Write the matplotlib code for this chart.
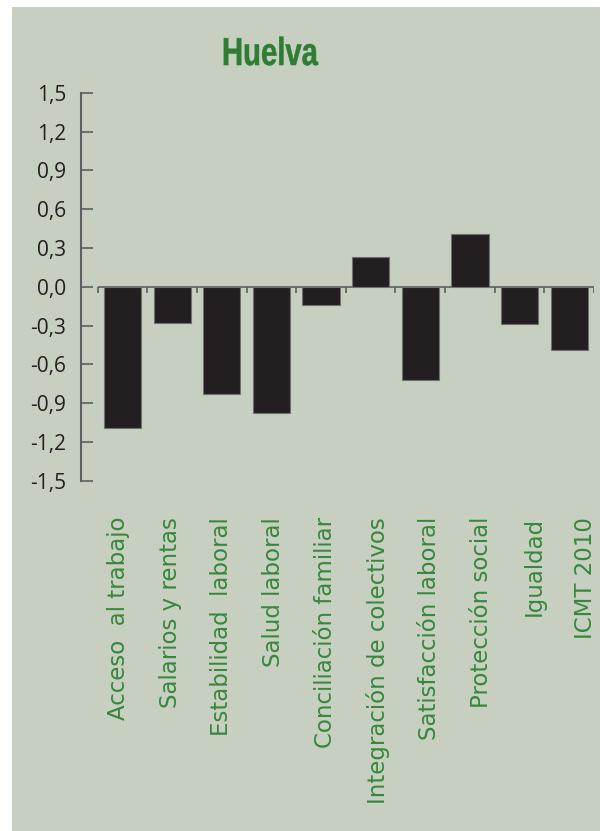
import numpy as np
import matplotlib
matplotlib.use("Agg")
import matplotlib.pyplot as plt
from matplotlib.patches import Rectangle, PathPatch
from matplotlib.textpath import TextPath
from matplotlib.font_manager import FontProperties
from matplotlib.transforms import Affine2D, IdentityTransform
from matplotlib.ticker import FuncFormatter

# Huelva - indicadores de calidad del trabajo
categorias = ["Acceso  al trabajo", "Salarios y rentas", "Estabilidad  laboral",
              "Salud laboral", "Conciliación familiar", "Integración de colectivos",
              "Satisfacción laboral", "Protección social", "Igualdad", "ICMT 2010"]
valores = [-1.09, -0.28, -0.83, -0.98, -0.14, 0.23, -0.72, 0.41, -0.29, -0.49]
yticks = [-1.5, -1.2, -0.9, -0.6, -0.3, 0.0, 0.3, 0.6, 0.9, 1.2, 1.5]

W, H = 600, 831
fondo = "#c7cfc0"
verde = "#2e7d32"
verde_cat = "#37873b"
negro = "#231f20"
gris = "#5e5e5e"

fig = plt.figure(figsize=(W / 100, H / 100), dpi=100)
fig.patch.set_facecolor("white")
fig.patches.append(Rectangle((12 / W, 0), 1 - 12 / W, 1 - 7 / H, transform=fig.transFigure,
                             facecolor=fondo, edgecolor="none", zorder=-5))

# axes box: spine at x=81px, last boundary at 594px, y from 92.7px to 480.7px
ax = fig.add_axes([81 / W, (H - 480.7) / H, (594 - 81) / W, 388 / H])
ax.set_facecolor("none")
ax.set_zorder(2)

x = np.arange(len(categorias))
px_per_unit = (594 - 97.7) / len(categorias)
ax.set_xlim(-0.5 - (97.7 - 81) / px_per_unit, len(categorias) - 0.5)
ax.set_ylim(-1.5, 1.5)

ax.bar(x, valores, width=0.75, color=negro, edgecolor="#707070", linewidth=0.8, zorder=3)

# zero line with short ticks at category boundaries
bordes = np.arange(len(categorias) + 1) - 0.5
ax.hlines(0, bordes[0], bordes[-1], color=gris, linewidth=1.2, zorder=2)
ax.vlines(bordes, -0.047, 0, color=gris, linewidth=1.2, zorder=2)

for s in ["top", "right", "bottom"]:
    ax.spines[s].set_visible(False)
ax.spines["left"].set_color(gris)
ax.spines["left"].set_linewidth(1.5)
ax.set_xticks([])
ax.set_yticks(yticks)
ax.yaxis.set_major_formatter(FuncFormatter(lambda v, p: f"{v:.1f}".replace(".", ",").replace("-0,0", "0,0")))
ax.tick_params(axis="y", direction="in", length=8.6, width=1.2, color=gris, pad=10.5,
               labelsize=15, labelcolor=negro)
for t in ax.get_yticklabels():
    t.set_fontfamily(["Open Sans", "DejaVu Sans"])

# condensed bold title: squeeze a text path horizontally
tp = TextPath((0, 0), "Huelva", size=39, prop=FontProperties(family="Liberation Sans", weight="bold"))
ext = tp.get_extents()
sx = 0.75
tr = Affine2D().translate(-ext.x0 - ext.width / 2, 0).scale(sx, 1).translate(271, H - 65)
fig.patches.append(PathPatch(tr.transform_path(tp), transform=IdentityTransform(),
                             facecolor=verde, edgecolor=verde, linewidth=0.4, zorder=3))

for i, nombre in enumerate(categorias):
    fig.text((118 + 52 * i) / W, (H - 517) / H, nombre, rotation=90, ha="center", va="top",
             fontsize=16.5, color=verde_cat, family=["DejaVu Sans"])

fig.savefig("out.png", dpi=100, facecolor=fig.get_facecolor())
